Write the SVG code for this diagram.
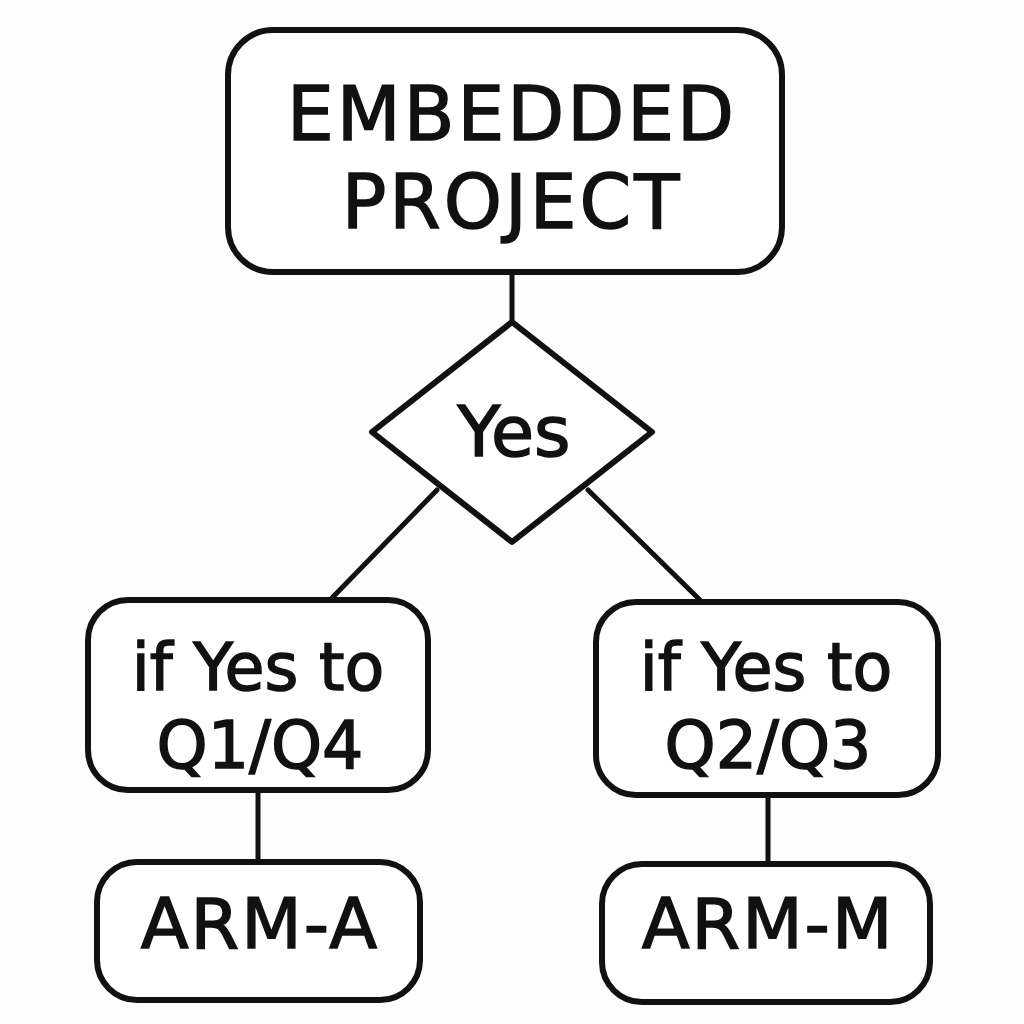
<svg xmlns="http://www.w3.org/2000/svg" width="1024" height="1024" viewBox="0 0 1024 1024">
<style>
.box{fill:#fff;stroke:#111;stroke-width:6;stroke-linejoin:round}
.con{stroke:#111;stroke-width:5;fill:none;stroke-linecap:round}
text{font-family:"DejaVu Sans","Liberation Sans",sans-serif;fill:#111;stroke:#111;stroke-width:1.5;text-anchor:middle}
.big{font-size:74px;letter-spacing:3px}
.yes{font-size:70px}
.mid{font-size:65px}
.arm{font-size:70px;letter-spacing:2px}
</style>
<rect width="1024" height="1024" fill="#fdfdfd"/>
<g id="connectors">
<line class="con" x1="512" y1="272" x2="512" y2="322"/>
<line class="con" x1="437" y1="490" x2="330" y2="600"/>
<line class="con" x1="588" y1="490" x2="700" y2="600"/>
<line class="con" x1="258" y1="790" x2="258" y2="862"/>
<line class="con" x1="768" y1="795" x2="768" y2="864"/>
</g>
<g id="n-project">
<rect class="box" x="228" y="30" width="554" height="242" rx="45"/>
<text class="big" x="512" y="140">EMBEDDED</text>
<text class="big" x="512" y="228">PROJECT</text>
</g>
<g id="n-yes">
<polygon class="box" points="512,322 652,432 512,542 372,432"/>
<text class="yes" x="514" y="456">Yes</text>
</g>
<g id="n-left">
<rect class="box" x="88" y="600" width="340" height="190" rx="40"/>
<text class="mid" x="258" y="690">if Yes to</text>
<text class="mid" x="260" y="768">Q1/Q4</text>
</g>
<g id="n-right">
<rect class="box" x="596" y="602" width="342" height="193" rx="40"/>
<text class="mid" x="766" y="690">if Yes to</text>
<text class="mid" x="768" y="768">Q2/Q3</text>
</g>
<g id="n-arma">
<rect class="box" x="97" y="862" width="323" height="138" rx="40"/>
<text class="arm" x="260" y="948">ARM-A</text>
</g>
<g id="n-armm">
<rect class="box" x="602" y="864" width="328" height="138" rx="40"/>
<text class="arm" x="768" y="948">ARM-M</text>
</g>
</svg>
